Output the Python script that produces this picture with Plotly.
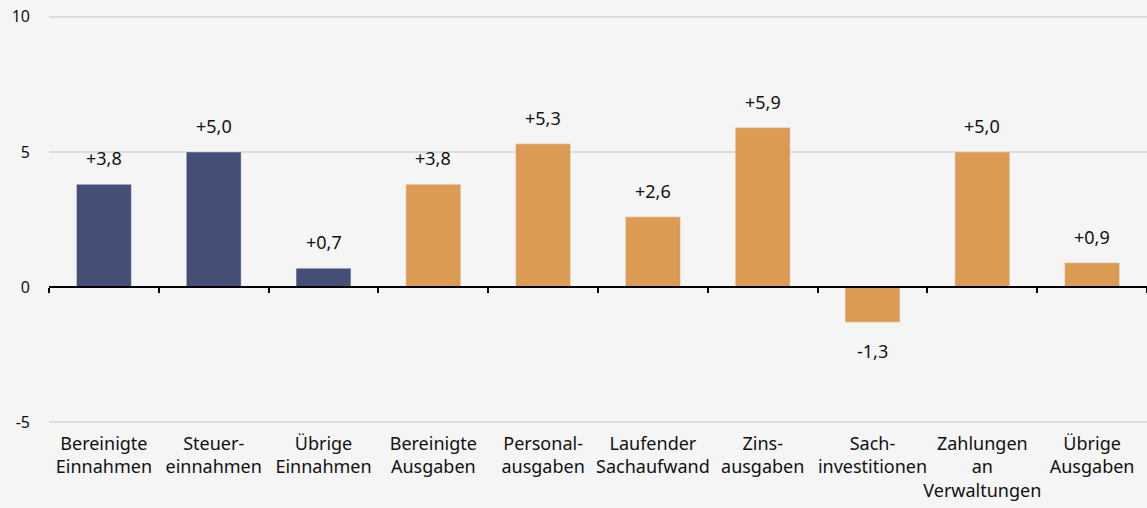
import plotly.graph_objects as go

categories = [
    "Bereinigte<br>Einnahmen",
    "Steuer-<br>einnahmen",
    "Übrige<br>Einnahmen",
    "Bereinigte<br>Ausgaben",
    "Personal-<br>ausgaben",
    "Laufender<br>Sachaufwand",
    "Zins-<br>ausgaben",
    "Sach-<br>investitionen",
    "Zahlungen<br>an<br>Verwaltungen",
    "Übrige<br>Ausgaben",
]
values = [3.8, 5.0, 0.7, 3.8, 5.3, 2.6, 5.9, -1.3, 5.0, 0.9]
groups = ["ein", "ein", "ein", "aus", "aus", "aus", "aus", "aus", "aus", "aus"]
y_ticks = [-5, 0, 5, 10]
y_tick_text = ["-5", "0", "5", "10"]

C_EIN = "#444e76"
C_AUS = "#dc9b53"
C_BG = "#f5f5f5"
FONT = "Noto Sans, sans-serif"

colors = [C_EIN if g == "ein" else C_AUS for g in groups]
labels = [("+" if v > 0 else "") + f"{v:.1f}".replace(".", ",") for v in values]

fig = go.Figure()
fig.add_trace(go.Bar(
    x=categories, y=values, marker_color=colors, width=0.5,
    hoverinfo="x+y", showlegend=False,
))
# invisible helper trace so the bottom label axis gets its categories
fig.add_trace(go.Scatter(
    x=categories, y=[0] * len(categories), xaxis="x2", mode="markers",
    marker=dict(opacity=0), hoverinfo="skip", showlegend=False,
))

for cat, v, lab in zip(categories, values, labels):
    fig.add_annotation(
        x=cat, y=v, text=lab, showarrow=False,
        yanchor="bottom" if v >= 0 else "top",
        yshift=12 if v >= 0 else -15,
        font=dict(size=18, color="#111111", family=FONT),
    )

# small padding so the grid lines at -5 and 10 are still drawn
y_lo, y_hi = -5.1, 10.1
fig.update_layout(
    width=1147, height=508,
    paper_bgcolor=C_BG, plot_bgcolor=C_BG,
    margin=dict(l=49, r=0, t=14, b=83),
    font=dict(family=FONT, size=18, color="#111111"),
    xaxis=dict(
        type="category", categoryorder="array", categoryarray=categories,
        range=[-0.5, len(categories) - 0.5],
        anchor="free", position=(0 - y_lo) / (y_hi - y_lo),
        showline=True, linecolor="#000000", linewidth=2,
        ticks="outside", tickson="boundaries", ticklen=5, tickwidth=2,
        tickcolor="#000000", showticklabels=False, showgrid=False,
        automargin=False,
    ),
    xaxis2=dict(
        type="category", categoryorder="array", categoryarray=categories,
        range=[-0.5, len(categories) - 0.5], overlaying="x", side="bottom",
        anchor="y", showline=False, ticks="", showgrid=False,
        tickangle=0, automargin=False, ticklabelstandoff=6,
        tickfont=dict(size=18, family=FONT, color="#111111"),
    ),
    yaxis=dict(
        range=[y_lo, y_hi], tickvals=y_ticks, ticktext=y_tick_text,
        showgrid=True, gridcolor="#dcdcdc", gridwidth=2, zeroline=False,
        ticks="", ticklabelstandoff=18, automargin=False,
        tickfont=dict(size=16, family=FONT, color="#111111"),
    ),
)

fig.write_html(
    "out.html",
    config={"displayModeBar": False},
    post_script="document.body.style.margin='0';",
)
